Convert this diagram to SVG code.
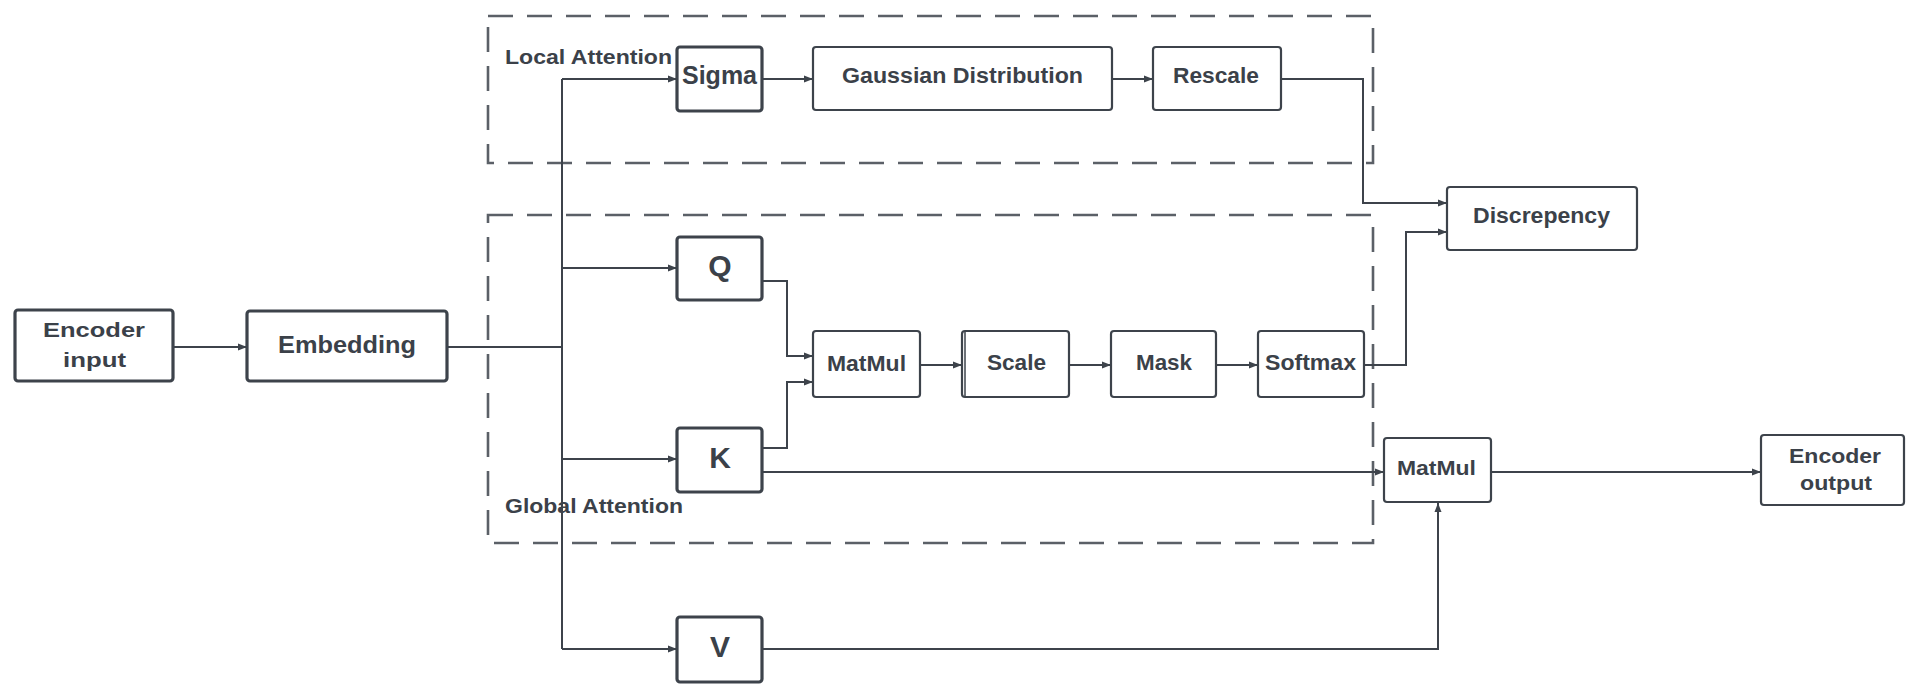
<svg xmlns="http://www.w3.org/2000/svg" width="1908" height="684" viewBox="0 0 1908 684">
<defs>
<marker id="arr" markerWidth="10" markerHeight="8" refX="9" refY="4" orient="auto" markerUnits="userSpaceOnUse">
<path d="M0,0.5 L9,4 L0,7.5 Z" fill="#3d434b"/>
</marker>
<style>
.box{fill:#fff;stroke:#3d434b;stroke-width:2.2}
.tb{fill:#fff;stroke:#3d434b;stroke-width:3.2}
.grp{fill:none;stroke:#5b6067;stroke-width:2.6;stroke-dasharray:25 14}
.c{fill:none;stroke:#3d434b;stroke-width:2}
.t{font-family:"Liberation Sans",Arial,sans-serif;font-weight:bold;fill:#3b4149}
</style>
</defs>
<rect width="1908" height="684" fill="#fff"/>

<g id="local-attention">
<path class="grp" d="M488,16 H1373 V163 H488 Z"/>
<text class="t" x="505" y="64" font-size="20" textLength="167" lengthAdjust="spacingAndGlyphs">Local Attention</text>
</g>
<g id="global-attention">
<path class="grp" d="M488,215 H1373 V543 H488 Z"/>
<text class="t" x="505" y="513" font-size="21" textLength="178" lengthAdjust="spacingAndGlyphs">Global Attention</text>
</g>

<g id="connectors">
<path class="c" d="M173,347 H247" marker-end="url(#arr)"/>
<path class="c" d="M447,347 H562"/>
<path class="c" d="M562,79 V649"/>
<path class="c" d="M562,79 H677" marker-end="url(#arr)"/>
<path class="c" d="M562,268 H677" marker-end="url(#arr)"/>
<path class="c" d="M562,459 H677" marker-end="url(#arr)"/>
<path class="c" d="M562,649 H677" marker-end="url(#arr)"/>
<path class="c" d="M762,79 H813" marker-end="url(#arr)"/>
<path class="c" d="M1112,79 H1153" marker-end="url(#arr)"/>
<path class="c" d="M1281,79 H1363 V203 H1447" marker-end="url(#arr)"/>
<path class="c" d="M762,281 H787 V356 H813" marker-end="url(#arr)"/>
<path class="c" d="M762,448 H787 V382 H813" marker-end="url(#arr)"/>
<path class="c" d="M920,365 H962" marker-end="url(#arr)"/>
<path class="c" d="M1069,365 H1111" marker-end="url(#arr)"/>
<path class="c" d="M1216,365 H1258" marker-end="url(#arr)"/>
<path class="c" d="M1364,365 H1406 V232 H1447" marker-end="url(#arr)"/>
<path class="c" d="M762,472 H1384" marker-end="url(#arr)"/>
<path class="c" d="M762,649 H1438 V503" marker-end="url(#arr)"/>
<path class="c" d="M1491,472 H1761" marker-end="url(#arr)"/>
</g>

<g id="encoder-input">
<rect class="tb" x="15" y="310" width="158" height="71" rx="3"/>
<text class="t" x="43" y="337" font-size="21" textLength="102" lengthAdjust="spacingAndGlyphs">Encoder</text>
<text class="t" x="63" y="367" font-size="21" textLength="63" lengthAdjust="spacingAndGlyphs">input</text>
</g>
<g id="embedding">
<rect class="tb" x="247" y="311" width="200" height="70" rx="3"/>
<text class="t" x="278" y="353" font-size="24" textLength="138" lengthAdjust="spacingAndGlyphs">Embedding</text>
</g>
<g id="sigma">
<rect class="tb" x="677" y="47" width="85" height="64" rx="3"/>
<text class="t" x="682" y="84" font-size="25" textLength="75" lengthAdjust="spacingAndGlyphs">Sigma</text>
</g>
<g id="gaussian">
<rect class="box" x="813" y="47" width="299" height="63" rx="3"/>
<text class="t" x="842" y="83" font-size="22" textLength="241" lengthAdjust="spacingAndGlyphs">Gaussian Distribution</text>
</g>
<g id="rescale">
<rect class="box" x="1153" y="47" width="128" height="63" rx="3"/>
<text class="t" x="1173" y="83" font-size="22" textLength="86" lengthAdjust="spacingAndGlyphs">Rescale</text>
</g>
<g id="discrepency">
<rect class="box" x="1447" y="187" width="190" height="63" rx="3"/>
<text class="t" x="1473" y="223" font-size="22" textLength="137" lengthAdjust="spacingAndGlyphs">Discrepency</text>
</g>
<g id="q">
<rect class="tb" x="677" y="237" width="85" height="63" rx="3"/>
<text class="t" x="720" y="276" font-size="30" text-anchor="middle">Q</text>
</g>
<g id="k">
<rect class="tb" x="677" y="428" width="85" height="64" rx="3"/>
<text class="t" x="720" y="468" font-size="30" text-anchor="middle">K</text>
</g>
<g id="v">
<rect class="tb" x="677" y="617" width="85" height="65" rx="3"/>
<text class="t" x="720" y="657" font-size="30" text-anchor="middle">V</text>
</g>
<g id="matmul1">
<rect class="box" x="813" y="331" width="107" height="66" rx="3"/>
<text class="t" x="827" y="371" font-size="22" textLength="79" lengthAdjust="spacingAndGlyphs">MatMul</text>
</g>
<g id="scale">
<rect class="box" x="962" y="331" width="107" height="66" rx="3"/>
<line x1="965" y1="332" x2="965" y2="396" stroke="#3d434b" stroke-width="1.5"/>
<text class="t" x="987" y="370" font-size="22" textLength="59" lengthAdjust="spacingAndGlyphs">Scale</text>
</g>
<g id="mask">
<rect class="box" x="1111" y="331" width="105" height="66" rx="3"/>
<text class="t" x="1136" y="370" font-size="22" textLength="56" lengthAdjust="spacingAndGlyphs">Mask</text>
</g>
<g id="softmax">
<rect class="box" x="1258" y="331" width="106" height="66" rx="3"/>
<text class="t" x="1265" y="370" font-size="22" textLength="91" lengthAdjust="spacingAndGlyphs">Softmax</text>
</g>
<g id="matmul2">
<rect class="box" x="1384" y="438" width="107" height="64" rx="3"/>
<text class="t" x="1397" y="475" font-size="21" textLength="79" lengthAdjust="spacingAndGlyphs">MatMul</text>
</g>
<g id="encoder-output">
<rect class="box" x="1761" y="435" width="143" height="70" rx="3"/>
<text class="t" x="1789" y="463" font-size="20" textLength="92" lengthAdjust="spacingAndGlyphs">Encoder</text>
<text class="t" x="1800" y="490" font-size="20" textLength="72" lengthAdjust="spacingAndGlyphs">output</text>
</g>
</svg>
